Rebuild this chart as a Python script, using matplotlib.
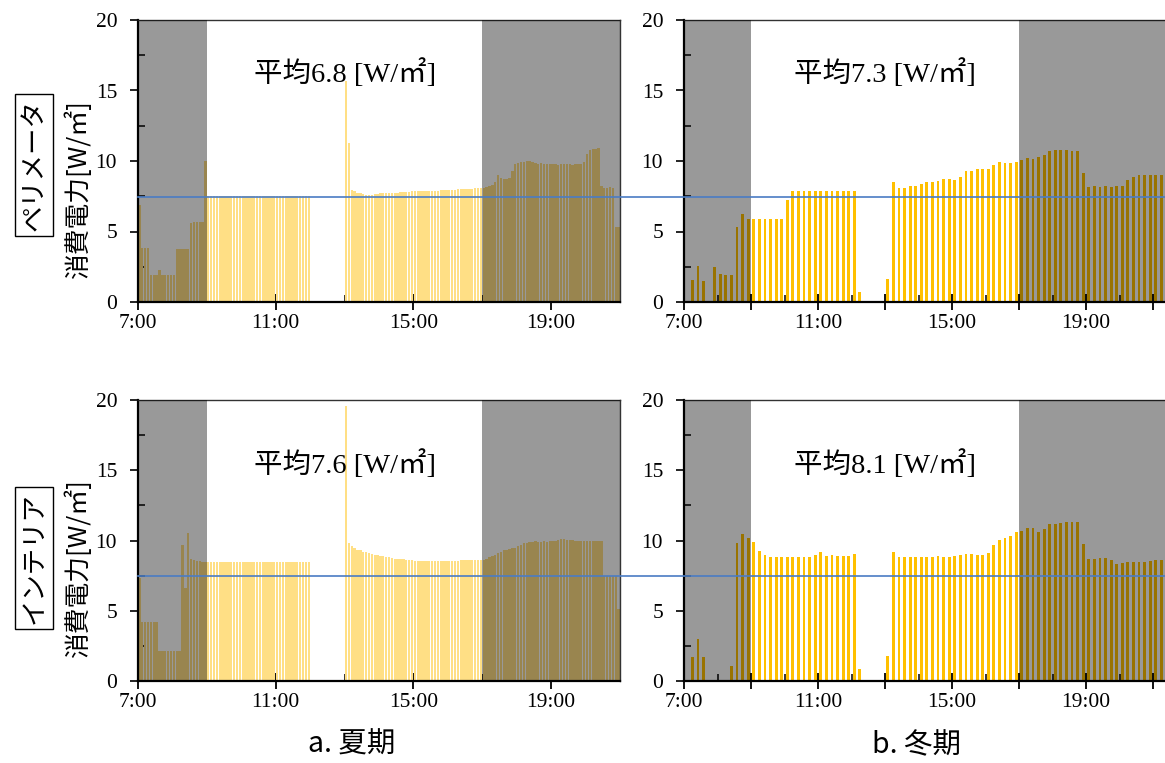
import numpy as np
import matplotlib
matplotlib.use('Agg')
import matplotlib.pyplot as plt
import matplotlib.transforms as mtransforms
from matplotlib.lines import Line2D
from matplotlib.ticker import FixedLocator, MultipleLocator, FuncFormatter

plt.rcParams['font.family'] = ['Liberation Serif', 'Noto Sans CJK JP']

# summer: 5-minute values, one row per hour (7:00 ... 20:55)
summer_perimeter = [
    6.9, 3.8, 3.8, 3.8, 1.9, 1.9, 1.9, 2.3, 1.9, 1.9, 1.9, 1.9,
    1.9, 3.75, 3.75, 3.75, 3.75, 3.75, 5.6, 5.65, 5.65, 5.65, 5.65, 10.0,
    7.55, 7.55, 7.55, 7.55, 7.55, 7.55, 7.55, 7.55, 7.55, 7.55, 7.55, 7.55,
    7.55, 7.55, 7.55, 7.55, 7.55, 7.55, 7.55, 7.55, 7.55, 7.55, 7.55, 7.55,
    7.55, 7.55, 7.55, 7.55, 7.55, 7.55, 7.55, 7.55, 7.55, 7.55, 7.55, 7.55,
    0, 0, 0, 0, 0, 0, 0, 0, 0, 0, 0, 0,
    15.7, 11.3, 7.95, 7.85, 7.75, 7.7, 7.65, 7.6, 7.6, 7.6, 7.65, 7.65,
    7.7, 7.7, 7.7, 7.7, 7.75, 7.75, 7.75, 7.8, 7.8, 7.8, 7.8, 7.85,
    7.85, 7.85, 7.85, 7.9, 7.9, 7.9, 7.9, 7.9, 7.9, 7.95, 7.95, 7.95,
    7.95, 7.95, 7.95, 8.0, 8.0, 8.0, 8.0, 8.0, 8.0, 8.05, 8.05, 8.1,
    8.1, 8.15, 8.2, 8.3, 8.5, 9.0, 8.8, 8.75, 8.75, 8.8, 9.3, 9.8,
    9.85, 9.9, 9.95, 10.0, 10.0, 9.9, 9.85, 9.8, 9.85, 9.8, 9.8, 9.8,
    9.8, 9.8, 9.75, 9.8, 9.8, 9.8, 9.8, 9.75, 9.8, 9.8, 9.8, 9.9,
    10.5, 10.8, 10.85, 10.85, 10.9, 8.2, 8.1, 8.1, 8.15, 8.1, 5.3, 5.3,
]

summer_interior = [
    7.3, 4.2, 4.2, 4.2, 4.2, 4.2, 4.2, 2.1, 2.1, 2.1, 2.1, 2.1,
    2.1, 2.1, 2.1, 9.7, 6.6, 10.5, 8.7, 8.6, 8.55, 8.55, 8.5, 8.5,
    8.5, 8.5, 8.5, 8.5, 8.5, 8.5, 8.5, 8.5, 8.5, 8.5, 8.5, 8.5,
    8.5, 8.5, 8.5, 8.5, 8.5, 8.5, 8.5, 8.5, 8.5, 8.5, 8.5, 8.5,
    8.5, 8.5, 8.5, 8.5, 8.5, 8.5, 8.5, 8.5, 8.5, 8.5, 8.5, 8.5,
    0, 0, 0, 0, 0, 0, 0, 0, 0, 0, 0, 0,
    19.6, 9.8, 9.6, 9.45, 9.35, 9.3, 9.2, 9.15, 9.1, 9.05, 9.0, 8.95,
    8.9, 8.9, 8.85, 8.8, 8.75, 8.7, 8.7, 8.65, 8.65, 8.6, 8.6, 8.6,
    8.55, 8.55, 8.55, 8.55, 8.55, 8.55, 8.55, 8.55, 8.55, 8.55, 8.55, 8.55,
    8.55, 8.55, 8.55, 8.55, 8.6, 8.6, 8.6, 8.6, 8.6, 8.6, 8.6, 8.6,
    8.6, 8.7, 8.8, 8.9, 9.0, 9.1, 9.2, 9.3, 9.35, 9.4, 9.45, 9.5,
    9.6, 9.7, 9.8, 9.85, 9.9, 9.9, 9.95, 9.9, 9.9, 9.95, 9.9, 9.95,
    10.0, 10.0, 10.05, 10.1, 10.1, 10.05, 10.05, 10.05, 10.0, 10.0, 10.0, 10.0,
    10.0, 10.0, 10.0, 10.0, 10.0, 10.0, 7.5, 7.5, 7.5, 7.5, 7.5, 5.1,
]

# winter: 10-minute values, one row per two hours (7:00 ... 21:10)
winter_perimeter = [
    0, 1.57, 2.56, 1.5, 0, 2.49, 1.97, 1.92, 1.92, 5.34, 6.24, 5.9,
    5.9, 5.9, 5.9, 5.9, 5.9, 5.9, 7.26, 7.9, 7.9, 7.9, 7.9, 7.9,
    7.9, 7.9, 7.9, 7.9, 7.9, 7.9, 7.9, 0.74, 0, 0, 0, 0,
    1.6, 8.5, 8.1, 8.1, 8.2, 8.26, 8.4, 8.5, 8.54, 8.6, 8.7, 8.7,
    8.66, 8.9, 9.28, 9.3, 9.4, 9.44, 9.44, 9.75, 9.9, 9.87, 9.87, 9.96,
    10.1, 10.2, 10.15, 10.25, 10.44, 10.7, 10.8, 10.8, 10.8, 10.7, 10.7, 9.16,
    8.14, 8.23, 8.18, 8.26, 8.18, 8.26, 8.23, 8.68, 8.9, 9.0, 9.0, 9.0,
    9.0, 9.0,
]

winter_interior = [
    0, 1.73, 3.0, 1.73, 0, 0, 0, 0, 1.09, 9.85, 10.46, 10.18,
    9.9, 9.25, 9.0, 8.83, 8.8, 8.83, 8.83, 8.8, 8.83, 8.83, 8.83, 9.0,
    9.18, 8.92, 8.97, 8.92, 8.92, 8.92, 9.06, 0.83, 0, 0, 0, 0,
    1.78, 9.16, 8.8, 8.8, 8.8, 8.8, 8.8, 8.8, 8.8, 8.9, 8.8, 8.8,
    8.9, 8.94, 9.04, 9.04, 8.94, 8.94, 9.13, 9.66, 10.04, 10.2, 10.34, 10.58,
    10.7, 10.9, 10.87, 10.58, 10.8, 11.17, 11.17, 11.22, 11.3, 11.3, 11.34, 9.73,
    8.66, 8.66, 8.73, 8.73, 8.6, 8.3, 8.37, 8.45, 8.45, 8.5, 8.5, 8.56,
    8.6, 8.6,
]

avg_texts = ['平均6.8 [W/㎡]', '平均7.3 [W/㎡]', '平均7.6 [W/㎡]', '平均8.1 [W/㎡]']
row_names = ['ペリメータ', 'インテリア']
col_names = ['a. 夏期', 'b. 冬期']
ref_level = [7.45, 7.5]

summer_major = [7, 11, 15, 19]
summer_minor = [9, 13, 17, 21]
winter_major = [7, 9, 11, 13, 15, 17, 19, 21]
winter_minor = [8, 10, 12, 14, 16, 18, 20, 22]

W, H = 1165, 763
fig = plt.figure(figsize=(W / 100, H / 100), dpi=100)


def frac(left, top, right, bottom):
    return [left / W, 1 - bottom / H, (right - left) / W, (bottom - top) / H]


def fmt_time(x, pos):
    h = int(round(x))
    if h in (7, 11, 15, 19):
        return '%d:00' % h
    return ''


def panel(ax, vals, step, width, color, xmax, major, minor, txt, ty):
    t = 7 + np.arange(len(vals)) * step + step / 2
    ax.bar(t, vals, width=width * step, color=color, linewidth=0, zorder=2)
    ax.axvspan(7, 9, color='black', alpha=0.4, lw=0, zorder=3)
    ax.axvspan(17, xmax, color='black', alpha=0.4, lw=0, zorder=3)
    ax.set_xlim(7, xmax)
    ax.set_ylim(0, 20)
    ax.xaxis.set_major_locator(FixedLocator(major))
    ax.xaxis.set_minor_locator(FixedLocator(minor))
    ax.xaxis.set_major_formatter(FuncFormatter(fmt_time))
    ax.yaxis.set_major_locator(MultipleLocator(5))
    ax.yaxis.set_minor_locator(MultipleLocator(2.5))
    ax.tick_params(axis='x', which='major', direction='inout', length=11, width=1.3,
                   labelsize=15.5, pad=3, labelfontfamily='Liberation Serif')
    ax.tick_params(axis='x', which='minor', direction='in', length=5, width=1.1)
    ax.tick_params(axis='y', which='major', direction='out', length=6, width=1.2,
                   labelsize=15.5, pad=9, labelfontfamily='Liberation Serif')
    ax.tick_params(axis='y', which='minor', direction='in', length=5, width=1.1)
    for s in ['left', 'bottom']:
        ax.spines[s].set_linewidth(1.6)
    for s in ['top', 'right']:
        ax.spines[s].set_linewidth(1.0)
        ax.spines[s].set_color('#333333')
    ax.text(13.0, ty, txt, ha='center', va='center', fontsize=20.5, zorder=6)


for r in range(2):
    top, bottom = [(20, 302), (400, 681)][r]
    a1 = fig.add_axes(frac(138, top, 620, bottom))
    a2 = fig.add_axes(frac(684, top, 1186.5, bottom))
    ty = [16.2, 15.4][r]
    if r == 0:
        panel(a1, summer_perimeter, 1 / 12, 0.82, '#FFDF85', 21, summer_major, summer_minor, avg_texts[0], ty)
        panel(a2, winter_perimeter, 1 / 6, 0.5, '#FFC000', 22, winter_major, winter_minor, avg_texts[1], ty)
    else:
        panel(a1, summer_interior, 1 / 12, 0.82, '#FFDF85', 21, summer_major, summer_minor, avg_texts[2], ty)
        panel(a2, winter_interior, 1 / 6, 0.5, '#FFC000', 22, winter_major, winter_minor, avg_texts[3], ty)

    # reference line running across both panels
    trans = mtransforms.blended_transform_factory(fig.transFigure, a1.transData)
    fig.add_artist(Line2D([138 / W, 1.0], [ref_level[r], ref_level[r]], transform=trans,
                          color='#4A7CC4', lw=1.2, zorder=10))

    a1.text(-0.124, 0.40, '消費電力[W/㎡]', transform=a1.transAxes, rotation=90,
            ha='center', va='center', fontsize=18.5, family=['Noto Sans CJK JP', 'DejaVu Sans'])
    a1.text(-0.216, [0.486, 0.438][r], row_names[r], transform=a1.transAxes, rotation=90,
            ha='center', va='center', fontsize=19, family=['Noto Sans CJK JP', 'DejaVu Sans'],
            bbox=dict(boxstyle='square,pad=0.2', fc='white', ec='black', lw=1.0))

fig.text(352 / W, 1 - 745 / H, col_names[0], ha='center', va='center', fontsize=20.5,
         family=['Noto Sans CJK JP', 'DejaVu Sans'])
fig.text(917 / W, 1 - 745 / H, col_names[1], ha='center', va='center', fontsize=20.5,
         family=['Noto Sans CJK JP', 'DejaVu Sans'])

fig.savefig('out.png', dpi=100)
